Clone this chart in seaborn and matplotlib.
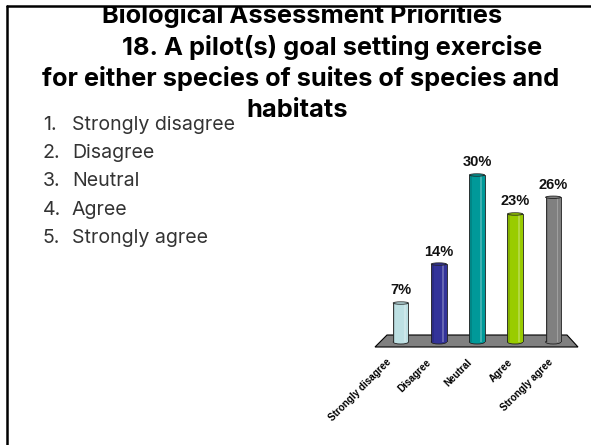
import matplotlib
matplotlib.use("Agg")
import matplotlib.pyplot as plt
import numpy as np
import pandas as pd
import seaborn as sns
from matplotlib.lines import Line2D
from matplotlib.patches import Polygon, Ellipse, Rectangle
from matplotlib.transforms import ScaledTranslation

categories = ["Strongly disagree", "Disagree", "Neutral", "Agree", "Strongly agree"]
percent_values = [7, 14, 30, 23, 26]
bar_colors = ["#BDE0E3", "#333399", "#009999", "#99CC00", "#808080"]
title_lines = ["Biological Assessment Priorities",
               "18. A pilot(s) goal setting exercise",
               "for either species of suites of species and",
               "habitats"]
choices = ["1.", "2.", "3.", "4.", "5."]

W, H = 591, 445
sns.set_theme(style="white")
plt.rcParams["font.family"] = ["Inter", "DejaVu Sans"]
fig = plt.figure(figsize=(W / 100, H / 100), dpi=100, facecolor="white")

# Slide frame: top and left rules only
fig.add_artist(Line2D([7 / W, 7 / W], [0, 1 - 6 / H], color="black", lw=1.8))
fig.add_artist(Line2D([7 / W, 1], [1 - 6 / H, 1 - 6 / H], color="black", lw=1.8))

# Title, clipped by the top rule
clip = Rectangle((0, 0), 1, 1 - 7 / H, transform=fig.transFigure)
for line, cx, y in zip(title_lines, [302, 332, 301, 297], [23, 55, 86, 117]):
    t = fig.text(cx / W, 1 - y / H, line, ha="center", va="baseline", fontsize=18.3,
                 fontweight="bold", color="black")
    t.set_clip_path(clip)
    t.set_clip_on(True)

# Answer list
for i, (num, cat) in enumerate(zip(choices, categories)):
    y = 125 + i * 28.2
    fig.text(43 / W, 1 - y / H, num, ha="left", va="center", fontsize=14.1, color="#333333")
    fig.text(72 / W, 1 - y / H, cat, ha="left", va="center", fontsize=14.1, color="#333333")

# Chart axes: baseline at y=342, 30% at y=175
left, right, base, top = 381.75, 572.25, 342, 175
ax = fig.add_axes([left / W, 1 - base / H, (right - left) / W, (base - top) / H])
ax.patch.set_alpha(0)
df = pd.DataFrame({"cat": categories, "val": percent_values})

# Floor, behind the chart axes
fig.add_artist(Polygon([(375 / W, 1 - 347 / H), (578 / W, 1 - 347 / H),
                        (567 / W, 1 - 335 / H), (387 / W, 1 - 335 / H)],
                       closed=True, transform=fig.transFigure, fc="#808080", ec="black", lw=0.8,
                       zorder=-1))

sns.barplot(data=df, x="cat", y="val", hue="cat", palette=bar_colors, legend=False,
            width=0.4, ax=ax, saturation=1, edgecolor="#222222", linewidth=0.6, zorder=3)
ax.set_ylim(0, 30)
ax.set_xlim(-0.5, 4.5)
ax.set_xlabel("")
ax.set_ylabel("")
ax.set_yticks([])
ax.tick_params(axis="x", length=0, pad=11)
ax.set_xticks(range(5))
ax.set_xticklabels(categories, rotation=45, ha="right", rotation_mode="anchor",
                   fontsize=7.1, fontweight="bold", family="Liberation Sans", color="black")
# The reference's labels fan out slightly wider than its bars
for i, lab in enumerate(ax.get_xticklabels()):
    shift_px = -10.3 + (i - 2) * 2.4
    lab.set_transform(lab.get_transform() + ScaledTranslation(shift_px / 100, 0, fig.dpi_scale_trans))
sns.despine(ax=ax, left=True, bottom=True)

cap = 4 / ((base - top) / 30)  # ellipse height in data units, 4 px tall
for b, v in zip(list(ax.patches), percent_values):
    cx = b.get_x() + b.get_width() / 2
    w = b.get_width()
    # cylinder shading
    ax.add_patch(Rectangle((b.get_x() + w * 0.72, 0), w * 0.12, v, fc="white", alpha=0.25, ec="none",
                           zorder=4, clip_on=False))
    ax.add_patch(Rectangle((b.get_x(), 0), w * 0.15, v, fc="black", alpha=0.12, ec="none",
                           zorder=4, clip_on=False))
    # bottom and top ends
    ax.add_patch(Ellipse((cx, 0), w, cap, fc=b.get_facecolor(), ec="#222222", lw=0.6, zorder=2.9, clip_on=False))
    ax.add_patch(Ellipse((cx, v), w, cap * 0.6, fc=b.get_facecolor(), ec="#222222", lw=0.6, zorder=5, clip_on=False))
    ax.annotate(f"{v}%", (cx, v), xytext=(0, 4), textcoords="offset points", ha="center",
                va="bottom", fontsize=10.5, fontweight="bold", family="Liberation Sans",
                color="#111111", annotation_clip=False)

fig.savefig("out.png", dpi=100)
